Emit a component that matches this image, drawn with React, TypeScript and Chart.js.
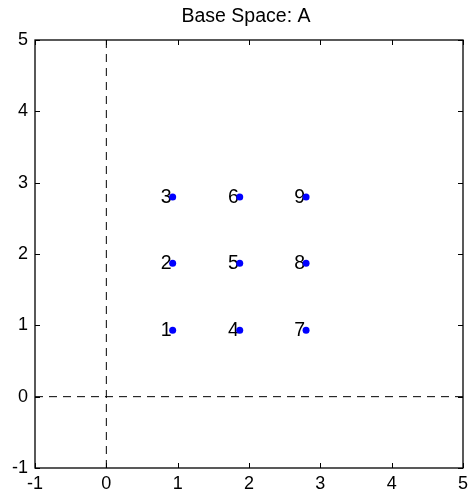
import React, { useEffect, useRef } from "react";
import { Chart, registerables } from "chart.js";

Chart.register(...registerables);

const titleText = "Base Space: A";
const pointLabels = ["1", "2", "3", "4", "5", "6", "7", "8", "9"];
const pointX = [0.93, 0.93, 0.93, 1.87, 1.87, 1.87, 2.8, 2.8, 2.8];
const pointY = [0.93, 1.87, 2.8, 0.93, 1.87, 2.8, 0.93, 1.87, 2.8];
const axisTicks = [-1, 0, 1, 2, 3, 4, 5];
const vLineX = [0, 0];
const vLineY = [-1, 5];
const hLineX = [-1, 5];
const hLineY = [0, 0];

const FONT = '"Liberation Sans", Arial, sans-serif';

const framePlugin = {
  id: "frame",
  beforeDatasetsDraw(chart: any) {
    const { ctx } = chart;
    const meta = chart.getDatasetMeta(0);
    ctx.save();
    ctx.fillStyle = "#000";
    ctx.font = `19.5px ${FONT}`;
    ctx.textAlign = "right";
    ctx.textBaseline = "alphabetic";
    meta.data.forEach((el: any, i: number) => {
      ctx.fillText(pointLabels[i], el.x - 1, el.y + 6);
    });
    ctx.restore();
  },
  afterDraw(chart: any) {
    const { ctx, chartArea, scales } = chart;
    const { left, right, top, bottom } = chartArea;
    ctx.save();
    ctx.strokeStyle = "#000";
    ctx.lineWidth = 1.3;
    ctx.strokeRect(left, top, right - left, bottom - top);
    ctx.lineWidth = 1;
    const tl = 5;
    axisTicks.forEach((v) => {
      const px = Math.round(scales.x.getPixelForValue(v)) + 0.5;
      ctx.beginPath();
      ctx.moveTo(px, bottom);
      ctx.lineTo(px, bottom - tl);
      ctx.moveTo(px, top);
      ctx.lineTo(px, top + tl);
      ctx.stroke();
      const py = Math.round(scales.y.getPixelForValue(v)) + 0.5;
      ctx.beginPath();
      ctx.moveTo(left, py);
      ctx.lineTo(left + tl, py);
      ctx.moveTo(right, py);
      ctx.lineTo(right - tl, py);
      ctx.stroke();
    });
    ctx.fillStyle = "#000";
    ctx.font = `19.5px ${FONT}`;
    ctx.textAlign = "center";
    ctx.textBaseline = "alphabetic";
    ctx.fillText(titleText, (left + right) / 2 - 3, 22);
    ctx.restore();
  },
};

export default function App() {
  const ref = useRef<HTMLCanvasElement>(null);
  useEffect(() => {
    if (!ref.current) return;
    const chart = new Chart(ref.current, {
      type: "scatter",
      data: {
        datasets: [
          {
            data: pointX.map((x, i) => ({ x, y: pointY[i] })),
            backgroundColor: "#0000ff",
            borderColor: "#0000ff",
            pointRadius: 3.5,
            borderWidth: 0,
            order: 0,
          },
          {
            type: "line",
            data: vLineX.map((x, i) => ({ x, y: vLineY[i] })),
            borderColor: "#000",
            borderWidth: 1,
            borderDash: [8, 6],
            pointRadius: 0,
            order: 1,
          } as any,
          {
            type: "line",
            data: hLineX.map((x, i) => ({ x, y: hLineY[i] })),
            borderColor: "#000",
            borderWidth: 1,
            borderDash: [8, 6],
            pointRadius: 0,
            order: 1,
          } as any,
        ],
      },
      options: {
        responsive: false,
        animation: false,
        layout: { padding: { top: 40, right: 5, left: 0, bottom: 0 } },
        plugins: {
          legend: { display: false },
          tooltip: { enabled: false },
          title: { display: false },
        },
        scales: {
          x: {
            type: "linear",
            min: -1,
            max: 5,
            grid: { display: false, drawTicks: false },
            border: { display: false },
            ticks: {
              stepSize: 1,
              color: "#000",
              font: { family: FONT, size: 18 },
              padding: 5,
            },
            afterFit: (s: any) => {
              s.height = 28;
              s.paddingLeft = 0;
              s.paddingRight = 0;
            },
          },
          y: {
            type: "linear",
            min: -1,
            max: 5,
            grid: { display: false, drawTicks: false },
            border: { display: false },
            ticks: {
              stepSize: 1,
              color: "#000",
              font: { family: FONT, size: 18 },
              padding: 7,
            },
            afterFit: (s: any) => {
              s.width = 35;
              s.paddingTop = 0;
              s.paddingBottom = 0;
            },
          },
        },
      },
      plugins: [framePlugin],
    });
    return () => chart.destroy();
  }, []);
  return (
    <div style={{ position: "fixed", left: 0, top: 0, background: "#fff" }}>
      <canvas ref={ref} width={468} height={496} />
    </div>
  );
}
